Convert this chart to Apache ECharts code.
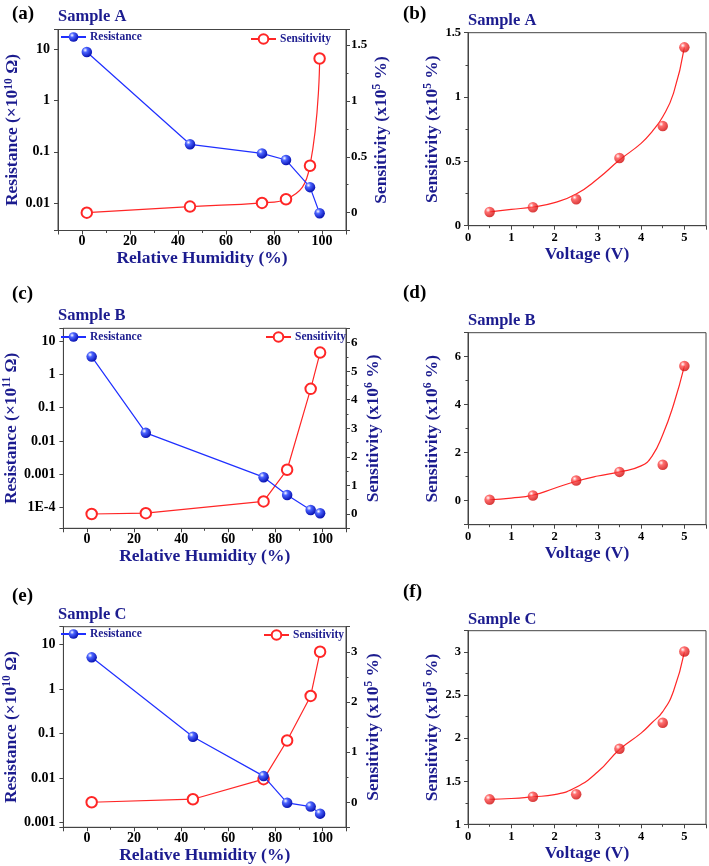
<!DOCTYPE html>
<html><head><meta charset="utf-8">
<script src="https://cdn.jsdelivr.net/npm/echarts@6/dist/echarts.min.js"></script>
<style>html,body{margin:0;padding:0;background:#fff}#c{width:709px;height:866px}</style>
</head><body><div id="c"></div>
<script>
// ---------- data ----------
const humA = [2, 45, 75, 85, 95, 99];
const resA = [8.9, 0.14, 0.093, 0.069, 0.0204, 0.0063];
const senA = [0, 0.054, 0.087, 0.12, 0.42, 1.38];

const humB = [2, 25, 75, 85, 95, 99];
const resB = [3.4, 0.0175, 0.00082, 0.00024, 0.000085, 0.000068];
const senB = [0, 0.03, 0.44, 1.55, 4.38, 5.65];

const humC = [2, 45, 75, 85, 95, 99];
const resC = [5.1, 0.085, 0.0111, 0.0028, 0.0023, 0.0016];
const senC = [0, 0.06, 0.46, 1.23, 2.12, 3.0];

const volt = [0.5, 1.5, 2.5, 3.5, 4.5, 5];
const senVA = [0.107, 0.143, 0.205, 0.526, 0.775, 1.386];
const senVB = [0.04, 0.22, 0.84, 1.2, 1.5, 5.61];
const senVC = [1.29, 1.32, 1.35, 1.878, 2.18, 3.008];

// fitted curves
const fitX = [0.5, 1, 1.5, 2, 2.5, 3, 3.5, 4, 4.25, 4.5, 4.75, 5];
const fitA = [0.107, 0.127, 0.145, 0.179, 0.246, 0.365, 0.51, 0.64, 0.73, 0.847, 1.03, 1.386];
const fitB = [0.04, 0.11, 0.23, 0.52, 0.81, 1.03, 1.2, 1.45, 1.85, 2.75, 4.0, 5.61];
const fitC = [1.29, 1.30, 1.32, 1.345, 1.43, 1.61, 1.87, 2.06, 2.18, 2.31, 2.55, 3.0];

const humTicks = [0, 20, 40, 60, 80, 100];

// ---------- styling ----------
const FONT = '"Liberation Serif", "Times New Roman", serif';
const NAVY = '#1c1c8f';
const AX = '#444444';
const BLUE = '#1f2fff';
const RED = '#ff2626';
function sphere(c1, c2) {
  return {type: 'radial', x: 0.35, y: 0.32, r: 0.75,
    colorStops: [{offset: 0, color: '#ffffff'}, {offset: 0.3, color: c1}, {offset: 1, color: c2}]};
}
const blueBall = sphere('#4a63ff', '#0008a8');
const redBall = sphere('#ff4a4a', '#c80000');

const tickLbl = (size) => ({color: '#000', fontWeight: 'bold', fontFamily: FONT, fontSize: size});
const nameStyle = {color: NAVY, fontWeight: 'bold', fontFamily: FONT, fontSize: 17.5};
const richName = {
  t: {color: NAVY, fontWeight: 'bold', fontFamily: FONT, fontSize: 17.5, lineHeight: 20},
  s: {color: NAVY, fontWeight: 'bold', fontFamily: FONT, fontSize: 11.5, lineHeight: 20, verticalAlign: 'top'}
};
function supName(pre, sup, post) { return '{t|' + pre + '}{s|' + sup + '}{t|' + post + '}'; }
function stepFmt(step, lo, hi) {
  return function (v) {
    const q = v / step;
    if (Math.abs(q - Math.round(q)) > 1e-6) return '';
    if (lo != null && (v < lo - 1e-9 || v > hi + 1e-9)) return '';
    return String(+v.toFixed(3));
  };
}
function logFmt(v) {
  const l = Math.log10(v), e = Math.round(l);
  if (Math.abs(l - e) > 1e-6) return '';
  if (e < -3) return '1E' + e;
  return e >= 0 ? String(Math.pow(10, e)) : Math.pow(10, e).toFixed(-e);
}
const lineAx = {onZero: false, lineStyle: {color: AX, width: 1}};
const tickAx = {inside: false, length: 4, lineStyle: {color: AX}};
const minorAx = {show: true, splitNumber: 2, length: 2.5, lineStyle: {color: AX}};

const grids = [], xAxes = [], yAxes = [], series = [], legends = [], titles = [];

function addTitle(txt, left, top, size, color) {
  titles.push({text: txt, left: left, top: top, padding: 0,
    textStyle: {fontSize: size, fontWeight: 'bold', fontFamily: FONT, color: color}});
}

function leftPanel(p) {
  const gi = grids.length;
  grids.push({left: 58, width: 288, top: p.top, height: p.h, show: true,
    borderColor: AX, borderWidth: 1, backgroundColor: 'transparent'});
  xAxes.push({gridIndex: gi, type: 'value', min: -10, max: 110, minInterval: 20, maxInterval: 20,
    name: 'Relative Humidity (%)', nameLocation: 'middle', nameGap: 19, nameTextStyle: nameStyle,
    axisLine: lineAx, axisTick: tickAx, minorTick: minorAx, splitLine: {show: false},
    axisLabel: Object.assign({margin: 4, formatter: v => humTicks.indexOf(Math.round(v * 1e6) / 1e6) >= 0 ? String(v) : ''}, tickLbl(14))});
  const yl = yAxes.length;
  yAxes.push({gridIndex: gi, type: 'log', logBase: 10, min: p.logMin, max: p.logMax, position: 'left',
    name: supName('Resistance (×10', p.rexp, ' Ω)'), nameLocation: 'middle', nameRotate: 90, nameGap: 28,
    nameTextStyle: {rich: richName},
    axisLine: lineAx, axisTick: tickAx, splitLine: {show: false},
    axisLabel: Object.assign({margin: 8, formatter: logFmt}, tickLbl(14))});
  yAxes.push({gridIndex: gi, type: 'value', min: p.rMin, max: p.rMax, minInterval: p.rInt, maxInterval: p.rInt, position: 'right',
    name: supName('Sensitivity (x10', p.sexp, ' %)'), nameLocation: 'middle', nameRotate: 90, nameGap: 17,
    nameTextStyle: {rich: richName},
    axisLine: lineAx, axisTick: tickAx, minorTick: minorAx, splitLine: {show: false},
    axisLabel: Object.assign({margin: 5, formatter: stepFmt(p.rInt)}, tickLbl(13))});
  series.push({name: 'Resistance', type: 'line', xAxisIndex: gi, yAxisIndex: yl,
    data: p.hum.map((h, k) => [h, p.res[k]]), symbol: 'circle', symbolSize: 10.5,
    itemStyle: {color: blueBall}, lineStyle: {color: BLUE, width: 1.2}, z: 3});
  series.push({name: 'Sensitivity', type: 'line', xAxisIndex: gi, yAxisIndex: yl + 1,
    data: p.hum.map((h, k) => [h, p.sen[k]]), symbol: 'emptyCircle', symbolSize: 10.5, smooth: p.smooth,
    itemStyle: {color: RED, borderWidth: 1.1}, lineStyle: {color: RED, width: 1.2}, z: 2});
  const ls = {padding: 0, itemWidth: 25, itemHeight: 12, itemGap: 4,
    textStyle: {color: NAVY, fontWeight: 'bold', fontFamily: FONT, fontSize: 11.5, padding: [0, 0, 0, -1]}};
  legends.push(Object.assign({left: 60, top: p.lRtop, data: ['Resistance']}, ls));
  legends.push(Object.assign({left: p.lSleft, top: p.lStop, data: ['Sensitivity']}, ls));
  addTitle(p.tag, 12, p.tagTop, 19, '#000');
  addTitle(p.sample, 58, p.sampleTop, 16.5, NAVY);
}

function rightPanel(p) {
  const gi = grids.length;
  grids.push({left: 468, width: 240, top: p.top, height: p.h, show: true,
    borderColor: AX, borderWidth: 1, backgroundColor: 'transparent'});
  xAxes.push({gridIndex: gi, type: 'value', min: 0, max: 5.5, interval: 1,
    name: 'Voltage (V)', nameLocation: 'middle', nameGap: 19, nameTextStyle: nameStyle,
    axisLine: lineAx, axisTick: tickAx, minorTick: minorAx, splitLine: {show: false},
    axisLabel: Object.assign({margin: 6, formatter: stepFmt(1, 0, 5)}, tickLbl(12.5))});
  const yi = yAxes.length;
  const yo = {gridIndex: gi, type: 'value', min: p.yMin, max: p.yMax, position: 'left',
    name: supName('Sensitivity (x10', p.sexp, ' %)'), nameLocation: 'middle', nameRotate: 90, nameGap: 26,
    nameTextStyle: {rich: richName},
    axisLine: lineAx, axisTick: tickAx, minorTick: minorAx, splitLine: {show: false},
    axisLabel: Object.assign({margin: 7, formatter: stepFmt(p.yInt)}, tickLbl(12.5))};
  if (p.yMin % p.yInt === 0) yo.interval = p.yInt; else { yo.minInterval = p.yInt; yo.maxInterval = p.yInt; }
  yAxes.push(yo);
  series.push({name: 'fit' + gi, type: 'line', xAxisIndex: gi, yAxisIndex: yi,
    data: fitX.map((x, k) => [x, p.fit[k]]), showSymbol: false, smooth: true,
    lineStyle: {color: RED, width: 1.2}, z: 2});
  series.push({name: 'pts' + gi, type: 'scatter', xAxisIndex: gi, yAxisIndex: yi,
    data: volt.map((x, k) => [x, p.pts[k]]), symbolSize: 10.5, itemStyle: {color: redBall}, z: 3});
  addTitle(p.tag, 403, p.tagTop, 19, '#000');
  addTitle(p.sample, 468, p.sampleTop, 16.5, NAVY);
}

leftPanel({top: 29.5, h: 201, hum: humA, res: resA, sen: senA, logMin: 0.0029, logMax: 24.5,
  rMin: -0.16, rMax: 1.64, rInt: 0.5, rexp: '10', sexp: '5', smooth: true,
  lRtop: 31, lSleft: 250, lStop: 33, tag: '(a)', tagTop: 5, sample: 'Sample A', sampleTop: 8.5});
rightPanel({top: 32.7, h: 193, yMin: 0, yMax: 1.5, yInt: 0.5, sexp: '5', fit: fitA, pts: senVA,
  tag: '(b)', tagTop: 5, sample: 'Sample A', sampleTop: 12.5});
leftPanel({top: 328.3, h: 200, hum: humB, res: resB, sen: senB, logMin: 0.000024, logMax: 24,
  rMin: -0.5, rMax: 6.5, rInt: 1, rexp: '11', sexp: '6', smooth: false,
  lRtop: 331, lSleft: 265, lStop: 331, tag: '(c)', tagTop: 285, sample: 'Sample B', sampleTop: 307.5});
rightPanel({top: 332.7, h: 192, yMin: -1, yMax: 7, yInt: 2, sexp: '6', fit: fitB, pts: senVB,
  tag: '(d)', tagTop: 284, sample: 'Sample B', sampleTop: 312.5});
leftPanel({top: 626.7, h: 200.6, hum: humC, res: resC, sen: senC, logMin: 0.00079, logMax: 24.8,
  rMin: -0.5, rMax: 3.5, rInt: 1, rexp: '10', sexp: '5', smooth: false,
  lRtop: 628, lSleft: 263, lStop: 629, tag: '(e)', tagTop: 587, sample: 'Sample C', sampleTop: 606.5});
rightPanel({top: 630.7, h: 193.6, yMin: 1, yMax: 3.25, yInt: 0.5, sexp: '5', fit: fitC, pts: senVC,
  tag: '(f)', tagTop: 583, sample: 'Sample C', sampleTop: 611.5});

const chart = echarts.init(document.getElementById('c'), null, {renderer: 'canvas'});
chart.setOption({
  backgroundColor: '#fff', animation: false,
  title: titles, legend: legends, grid: grids, xAxis: xAxes, yAxis: yAxes, series: series
});
</script></body></html>
